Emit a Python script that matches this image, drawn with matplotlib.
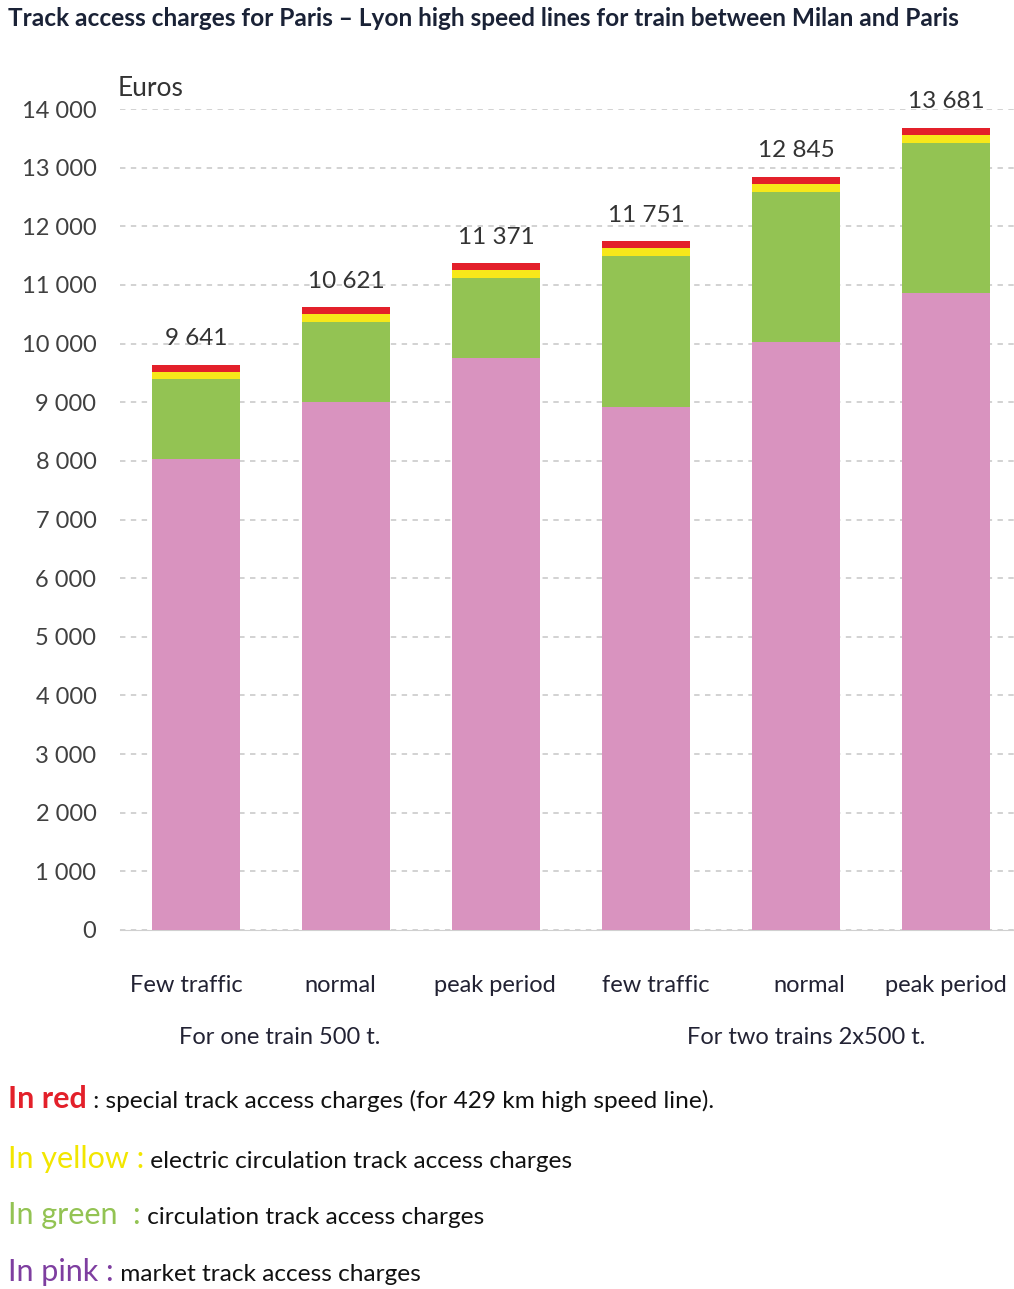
import matplotlib.pyplot as plt
import numpy as np

plt.rcParams['font.family'] = ['Lato', 'DejaVu Sans']

# categories and stacked components (euros)
categories = ['Few traffic', 'normal', 'peak period', 'few traffic', 'normal', 'peak period']
groups = ['For one train 500 t.', 'For two trains 2x500 t.']
totals = [9641, 10621, 11371, 11751, 12845, 13681]
pink = [8030, 9010, 9760, 8920, 10020, 10860]      # market
red = [120, 120, 120, 125, 130, 125]               # special (429 km HSL)
yellow = [130, 130, 130, 140, 135, 140]            # electric circulation
green = [t - p - r - y for t, p, r, y in zip(totals, pink, red, yellow)]  # circulation

c_pink = '#D993BF'
c_green = '#93C353'
c_yellow = '#F7E81A'
c_red = '#E3202A'

W, H = 1014, 1289
fig = plt.figure(figsize=(W / 100, H / 100), dpi=100)

def px(x0, y0, x1, y1):
    return [x0 / W, 1 - y1 / H, (x1 - x0) / W, (y1 - y0) / H]

ax = fig.add_axes(px(120, 109, 1014, 930))
x = np.arange(len(categories))
bw = 0.587

b = np.zeros(len(x))
for vals, col in [(pink, c_pink), (green, c_green), (yellow, c_yellow), (red, c_red)]:
    ax.bar(x, vals, bw, bottom=b, color=col, zorder=3)
    b = b + np.array(vals)

for xi, t in zip(x, totals):
    ax.text(xi, t + 260, f'{t:,}'.replace(',', ' '), ha='center', va='bottom',
            fontsize=17.5, color='#333333', zorder=4)

ax.set_xlim(-0.507, 5.453)
ax.set_ylim(0, 14000)
ax.set_yticks(np.arange(0, 14001, 1000))
ax.set_yticklabels([f'{v:,}'.replace(',', ' ') for v in range(0, 14001, 1000)])
ax.tick_params(axis='y', length=0, pad=17, labelsize=17, labelcolor='#404040')
ax.set_xticks([])
for s in ['top', 'right', 'left']:
    ax.spines[s].set_visible(False)
ax.spines['bottom'].set_color('#d0d0d0')
ax.grid(axis='y', color='#cfcfcf', linestyle=(0, (3, 3)), linewidth=1.3, zorder=0)
ax.text(-0.52, 14130, 'Euros', ha='left', va='bottom', fontsize=19, color='#333333')

# category and group labels under the axis
cat_x = [186, 340, 495, 656, 809, 946]
for cx, lab in zip(cat_x, categories):
    fig.text(cx / W, 1 - 986 / H, lab, ha='center', va='center', fontsize=17, color='#222233')
fig.text(280 / W, 1 - 1038 / H, groups[0], ha='center', va='center', fontsize=17, color='#222233')
fig.text(806 / W, 1 - 1038 / H, groups[1], ha='center', va='center', fontsize=17, color='#222233')

fig.text(8 / W, 1 - 19 / H,
         'Track access charges for Paris \u2013 Lyon high speed lines for train between Milan and Paris',
         ha='left', va='center', fontsize=17.6, fontweight='bold', color='#1a2236')

# colour key written as text lines
key = [
    ('In red', c_red, 'bold', ' : special track access charges (for 429 km high speed line).', 1108),
    ('In yellow :', '#F2E600', 'normal', ' electric circulation track access charges', 1168),
    ('In green  :', '#93C353', 'normal', ' circulation track access charges', 1224),
    ('In pink :', '#7E3EA0', 'normal', ' market track access charges', 1281),
]
fig.canvas.draw()
r = fig.canvas.get_renderer()
for head, col, wt, rest, yy in key:
    t1 = fig.text(8 / W, 1 - yy / H, head, ha='left', va='baseline', fontsize=22,
                  color=col, fontweight=wt)
    bb = t1.get_window_extent(renderer=r)
    fig.text(bb.x1 / W, 1 - yy / H, rest, ha='left', va='baseline', fontsize=17.6, color='#111111')

fig.savefig('out.png', dpi=100)
